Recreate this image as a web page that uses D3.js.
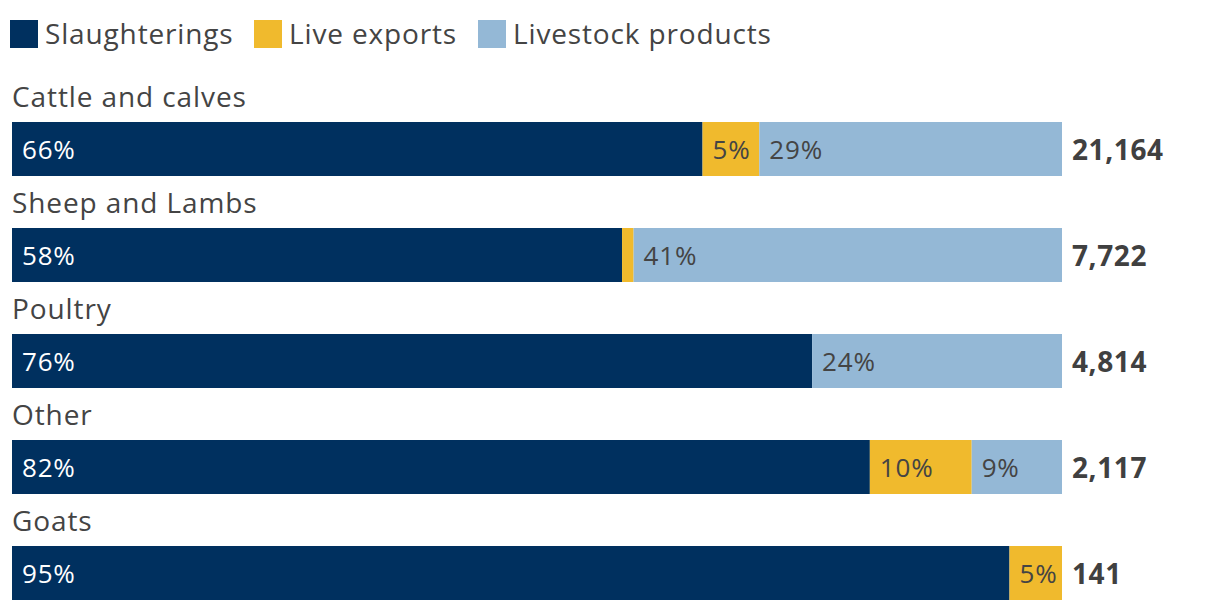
<!DOCTYPE html>
<html><head><meta charset="utf-8">
<script src="https://cdn.jsdelivr.net/npm/d3@7"></script>
<style>
body{margin:0;background:#fff;}
text{font-family:"Open Sans",sans-serif;}
</style></head>
<body><svg id="c" width="1220" height="612"></svg>
<script>
const categories = ["Cattle and calves","Sheep and Lambs","Poultry","Other","Goats"];
const seriesNames = ["Slaughterings","Live exports","Livestock products"];
const slaughterings = [65.7, 58.1, 76.2, 81.7, 95.0];
const liveExports = [5.4, 1.1, 0, 9.7, 5.0];
const livestockProducts = [28.8, 40.8, 23.8, 8.6, 0];
const totals = [21164, 7722, 4814, 2117, 141];
const colors = ["#00305f", "#f0ba2d", "#94b8d6"];
const labelColors = ["#ffffff", "#444444", "#444444"];

const svg = d3.select("#c");
const x = d3.scaleLinear().domain([0, 100]).range([12, 1062]);
const y = d3.scaleBand().domain(categories).range([70, 600]).paddingInner(0).paddingOuter(0);
const barH = 54;

// legend
const legX = [10, 254, 478];
seriesNames.forEach((s, i) => {
  svg.append("rect").attr("x", legX[i]).attr("y", 20).attr("width", 28).attr("height", 28).attr("fill", colors[i]);
  svg.append("text").attr("x", legX[i] + 35).attr("y", 44).attr("font-size", 28)
    .attr("letter-spacing", 0.85).attr("fill", "#444").text(s);
});

const rows = categories.map((c, i) => {
  const vals = [slaughterings[i], liveExports[i], livestockProducts[i]];
  const sum = d3.sum(vals);
  let acc = 0;
  const segs = vals.map((v, k) => { const s = {k, v, x0: acc / sum * 100, x1: (acc + v) / sum * 100}; acc += v; return s; });
  return {c, i, segs, total: totals[i]};
});

const g = svg.selectAll("g.row").data(rows).join("g").attr("class", "row")
  .attr("transform", d => `translate(0,${y(d.c)})`);

g.append("text").attr("x", 12).attr("y", 37).attr("font-size", 28).attr("letter-spacing", 0.9)
  .attr("fill", "#444").text(d => d.c);

const barY = 52;
g.selectAll("rect.seg").data(d => d.segs.filter(s => s.v > 0)).join("rect").attr("class", "seg")
  .attr("x", s => x(s.x0)).attr("width", s => x(s.x1) - x(s.x0))
  .attr("y", barY).attr("height", barH).attr("fill", s => colors[s.k]);

g.selectAll("text.lab").data(d => d.segs.filter(s => x(s.x1) - x(s.x0) > 30)).join("text").attr("class", "lab")
  .attr("x", s => x(s.x0) + 10).attr("y", barY + 37).attr("font-size", 26).attr("letter-spacing", 0.8)
  .attr("fill", s => labelColors[s.k]).text(s => Math.round(s.v) + "%");

g.append("text").attr("x", 1072).attr("y", barY + 38).attr("font-size", 28).attr("font-weight", "bold")
  .attr("letter-spacing", 0.6).attr("fill", "#404040").text(d => d3.format(",")(d.total));
</script></body></html>
